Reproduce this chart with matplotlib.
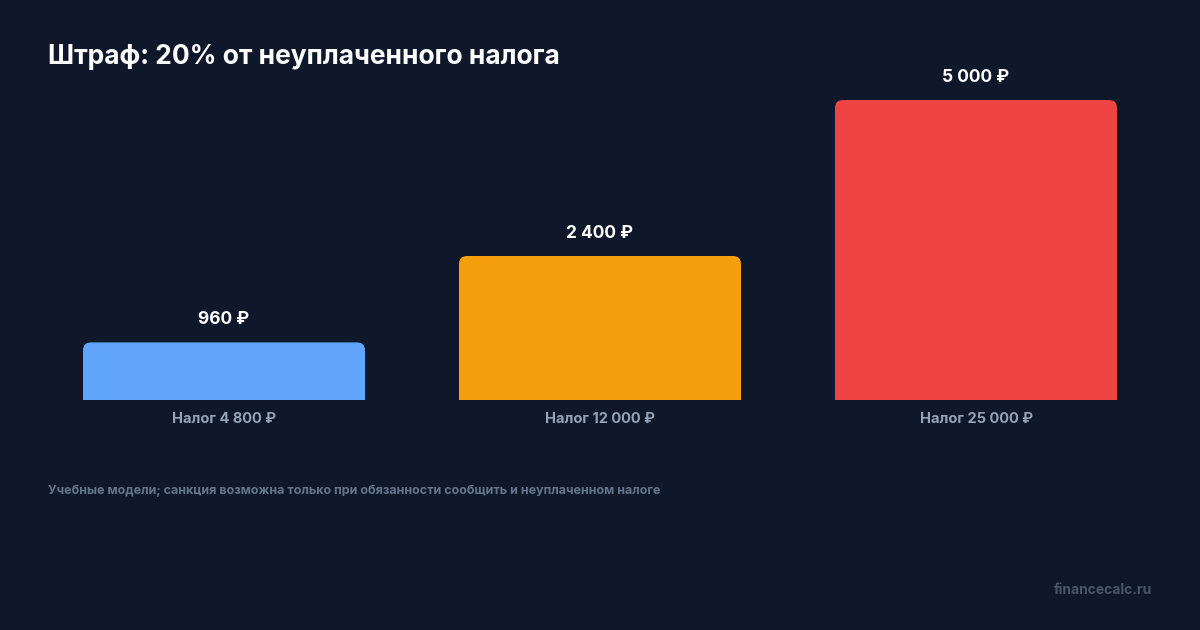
import matplotlib
matplotlib.use("Agg")
import matplotlib.pyplot as plt
from matplotlib.patches import FancyBboxPatch

categories = ["Налог 4 800 ₽", "Налог 12 000 ₽", "Налог 25 000 ₽"]
values = [960, 2400, 5000]
value_labels = ["960 ₽", "2 400 ₽", "5 000 ₽"]
colors = ["#60a5fa", "#f59e0b", "#ef4444"]

plt.rcParams['font.family'] = ['Inter', 'DejaVu Sans']
BG = "#0f172a"
fig = plt.figure(figsize=(12, 6.3), dpi=100, facecolor=BG)
ax = fig.add_axes([36/1200, 230/630, 1128/1200, 360/630])
ax.set_facecolor(BG)
ax.set_xlim(-0.5, 2.5)
ax.set_ylim(0, 6000)
ax.axis('off')

w = 0.75
px_x = 1/376.0
px_y = 6000/360.0
r = 8 * px_x
for i, (v, c) in enumerate(zip(values, colors)):
    p = FancyBboxPatch((i - w/2, -500), w, v + 500,
                       boxstyle=f"round,pad=0,rounding_size={r}",
                       mutation_aspect=px_y/px_x, facecolor=c, edgecolor='none')
    ax.add_patch(p)
    ax.annotate(value_labels[i], (i, v), xytext=(0, 14), textcoords='offset pixels',
                ha='center', va='bottom', color='white', fontsize=12.5, fontweight='bold')
    ax.annotate(categories[i], (i, 0), xytext=(0, -19), textcoords='offset pixels',
                ha='center', va='center', color='#94a3b8', fontsize=10.5, fontweight='bold')

fig.text(48/1200, 1 - 57/630, "Штраф: 20% от неуплаченного налога", color='white',
         fontsize=19, fontweight='bold', ha='left', va='center')
fig.text(48/1200, 1 - 491/630,
         "Учебные модели; санкция возможна только при обязанности сообщить и неуплаченном налоге",
         color='#64748b', fontsize=9, fontweight='bold', ha='left', va='center')
fig.text(1152/1200, 1 - 590/630, "financecalc.ru", color='#475569', fontsize=10,
         fontweight='bold', ha='right', va='center')

fig.savefig("out.png", dpi=100, facecolor=BG)
